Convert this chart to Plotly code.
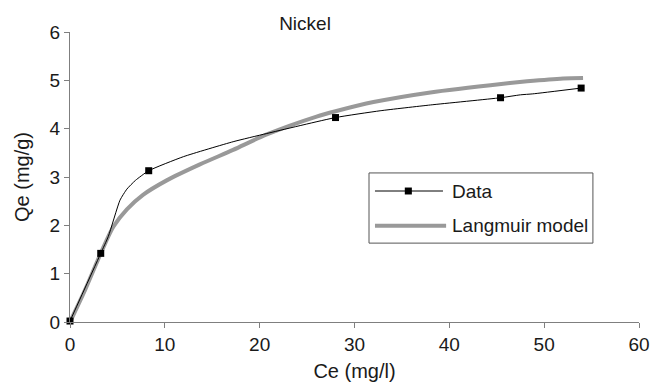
import plotly.graph_objects as go

# Measured points (markers)
ce_data = [0.0, 3.24, 8.3, 28.0, 45.4, 53.9]
qe_data = [0.02, 1.42, 3.13, 4.23, 4.64, 4.84]

# Traced path of the "Data" line (includes the measured points)
ce_line = [0.0, 3.24, 4.04, 5.27, 6.0, 6.9, 8.3, 11.95, 17.2, 20.75, 28.0, 32.7, 38.0, 45.4, 47.5, 48.8, 53.9]
qe_line = [0.02, 1.42, 1.77, 2.52, 2.75, 2.93, 3.13, 3.42, 3.73, 3.9, 4.23, 4.37, 4.49, 4.64, 4.70, 4.72, 4.84]

# Langmuir model curve (traced)
ce_lang = [0.0, 1.58, 3.24, 4.57, 6.0, 7.7, 10.2, 13.7, 17.2, 20.75, 26.0, 28.0, 32.0, 38.0, 45.7, 48.2, 52.0, 54.1]
qe_lang = [0.0, 0.66, 1.42, 1.97, 2.33, 2.63, 2.93, 3.26, 3.56, 3.88, 4.25, 4.36, 4.55, 4.75, 4.93, 4.98, 5.04, 5.05]

x_ticks = [0, 10, 20, 30, 40, 50, 60]
y_ticks = [0, 1, 2, 3, 4, 5, 6]

FONT = "Liberation Sans, Arial, sans-serif"
TXT = "#1a1a1a"
AX = "#7f7f7f"
GRAY = "#999999"

fig = go.Figure()
fig.add_trace(go.Scatter(x=ce_lang, y=qe_lang, mode="lines",
                         line=dict(color=GRAY, width=4, shape="spline", smoothing=0.8),
                         name="Langmuir model", showlegend=False, cliponaxis=False))
fig.add_trace(go.Scatter(x=ce_line, y=qe_line, mode="lines",
                         line=dict(color="black", width=1, shape="spline", smoothing=0.5),
                         name="Data", showlegend=False, cliponaxis=False))
fig.add_trace(go.Scatter(x=ce_data, y=qe_data, mode="markers",
                         marker=dict(symbol="square", size=7, color="black"),
                         name="Data", showlegend=False, cliponaxis=False))

# Custom legend (paper coordinates)
lx0, lx1, ly0, ly1 = 0.5255, 0.919, 0.272, 0.514
shapes = [
    dict(type="rect", xref="paper", yref="paper", x0=lx0, x1=lx1, y0=ly0, y1=ly1,
         line=dict(color="#555555", width=1), fillcolor="white", layer="above"),
    dict(type="line", xref="paper", yref="paper", x0=0.536, x1=0.6555, y0=0.4517, y1=0.4517,
         line=dict(color="black", width=1), layer="above"),
    dict(type="rect", xref="paper", yref="paper", x0=0.5946 - 0.0062, x1=0.5946 + 0.0062,
         y0=0.4517 - 0.012, y1=0.4517 + 0.012, line=dict(width=0), fillcolor="black", layer="above"),
    dict(type="line", xref="paper", yref="paper", x0=0.536, x1=0.661, y0=0.332, y1=0.332,
         line=dict(color=GRAY, width=4), layer="above"),
]
annotations = [
    dict(xref="paper", yref="paper", x=0.6678, y=0.4517, text="Data", showarrow=False,
         xanchor="left", yanchor="middle", font=dict(family=FONT, size=19, color=TXT)),
    dict(xref="paper", yref="paper", x=0.6678, y=0.332, text="Langmuir model", showarrow=False,
         xanchor="left", yanchor="middle", font=dict(family=FONT, size=19, color=TXT)),
]

fig.update_layout(
    width=651, height=386,
    margin=dict(l=70, r=12, t=32, b=64, autoexpand=False),
    paper_bgcolor="white", plot_bgcolor="white",
    font=dict(family=FONT, size=19, color=TXT),
    title=dict(text="Nickel", x=(305 - 70) / 569, xref="paper", xanchor="center",
               y=1 - 23 / 386, yref="container", yanchor="middle",
               font=dict(family=FONT, size=19, color=TXT)),
    shapes=shapes, annotations=annotations,
    showlegend=False,
)
fig.update_xaxes(range=[0, 60], tickvals=x_ticks, ticktext=[str(v) for v in x_ticks],
                 showgrid=False, zeroline=False, showline=True, linecolor=AX, linewidth=1,
                 ticks="outside", ticklen=5, tickcolor=AX, automargin=False,
                 tickfont=dict(family=FONT, size=19, color=TXT),
                 title=dict(text="Ce (mg/l)", standoff=10, font=dict(family=FONT, size=20, color=TXT)))
fig.update_yaxes(range=[0, 6], tickvals=y_ticks, ticktext=[str(v) for v in y_ticks],
                 showgrid=False, zeroline=False, showline=True, linecolor=AX, linewidth=1,
                 ticks="outside", ticklen=5, tickcolor=AX, automargin=False,
                 tickfont=dict(family=FONT, size=19, color=TXT),
                 title=dict(text="Qe (mg/g)", standoff=14, font=dict(family=FONT, size=20, color=TXT)))

fig.write_html("out.html")
